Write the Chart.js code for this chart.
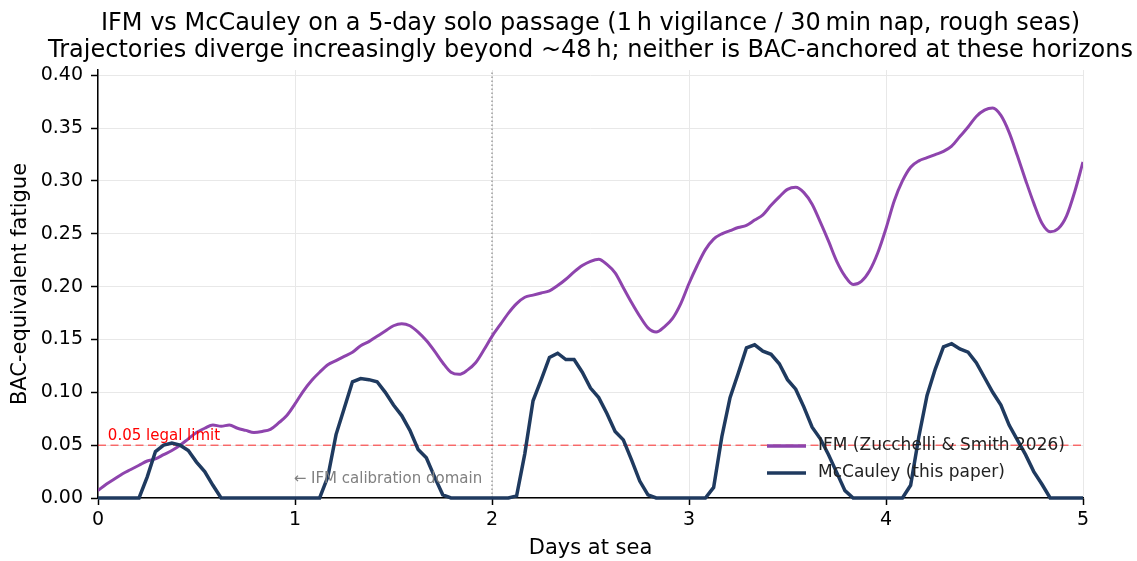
<!DOCTYPE html>
<html>
<head>
<meta charset="utf-8">
<script src="https://cdn.jsdelivr.net/npm/chart.js@4.4.1/dist/chart.umd.min.js"></script>
<style>
  html, body { margin: 0; padding: 0; background: #fff; }
  canvas { display: block; }
</style>
</head>
<body>
<canvas id="fatigueChart" width="1137" height="561"></canvas>
<script>
const titleLines = [
  'IFM vs McCauley on a 5-day solo passage (1\u2009h vigilance / 30\u2009min nap, rough seas)',
  'Trajectories diverge increasingly beyond ~48\u2009h; neither is BAC-anchored at these horizons'
];
const xTitle = 'Days at sea';
const yTitle = 'BAC-equivalent fatigue';
const xTickValues = [0, 1, 2, 3, 4, 5];
const yTickValues = [0, 0.05, 0.10, 0.15, 0.20, 0.25, 0.30, 0.35, 0.40];
const yMax = 0.405;

// hourly samples over 5 days
const hours = Array.from({length: 121}, (_, i) => i);

const ifmValues = [
  0.007, 0.013, 0.018, 0.023, 0.027, 0.031, 0.035, 0.037, 0.041, 0.045, 0.050, 0.056, 0.062,
  0.066, 0.069, 0.068, 0.069, 0.066, 0.064, 0.062, 0.063, 0.065, 0.071, 0.078, 0.089, 0.101,
  0.111, 0.119, 0.126, 0.130, 0.134, 0.138, 0.144, 0.148, 0.153, 0.158, 0.163, 0.165, 0.163,
  0.157, 0.149, 0.139, 0.128, 0.119, 0.117, 0.121, 0.128, 0.140, 0.153,
  0.164, 0.175, 0.184, 0.190, 0.192, 0.194, 0.196, 0.201, 0.207, 0.214, 0.220, 0.224, 0.226,
  0.221, 0.213, 0.199, 0.185, 0.172, 0.161, 0.157, 0.162, 0.170, 0.184, 0.203, 0.220,
  0.235, 0.245, 0.250, 0.253, 0.256, 0.258, 0.263, 0.268, 0.277, 0.285, 0.292, 0.294,
  0.289, 0.278, 0.261, 0.243, 0.224, 0.210, 0.202, 0.205, 0.215, 0.232, 0.255,
  0.281, 0.300, 0.313, 0.319, 0.322, 0.325, 0.328, 0.333, 0.342, 0.351, 0.361, 0.367,
  0.369, 0.362, 0.346, 0.324, 0.301, 0.279, 0.260, 0.252, 0.255, 0.267, 0.290, 0.318
];

const mccauleyValues = [
  0, 0, 0, 0, 0, 0,
  0.020, 0.044, 0.050, 0.052, 0.050, 0.045, 0.034, 0.025, 0.012, 0,
  0, 0, 0, 0, 0, 0, 0, 0, 0, 0, 0, 0,
  0.020, 0.060, 0.085, 0.110, 0.113, 0.112, 0.110, 0.100, 0.088, 0.078, 0.064, 0.046, 0.038, 0.020, 0.003,
  0, 0, 0, 0, 0, 0, 0, 0,
  0.002, 0.042, 0.092, 0.112, 0.133, 0.137, 0.131, 0.131, 0.119, 0.104, 0.095, 0.080, 0.063, 0.055, 0.036, 0.016, 0.003,
  0, 0, 0, 0, 0, 0, 0,
  0.010, 0.058, 0.095, 0.118, 0.142, 0.145, 0.139, 0.136, 0.127, 0.112, 0.103, 0.086, 0.067, 0.056, 0.041, 0.024, 0.007,
  0, 0, 0, 0, 0, 0, 0,
  0.012, 0.058, 0.097, 0.122, 0.143, 0.146, 0.141, 0.138, 0.128, 0.114, 0.100, 0.088, 0.069, 0.055, 0.041, 0.025, 0.013,
  0, 0, 0, 0, 0
];

const legalLimit = 0.05;
const calibrationEndDay = 2;
const seriesLabels = ['IFM (Zucchelli & Smith 2026)', 'McCauley (this paper)'];
const limitLabel = '0.05 legal limit';
const calibrationLabel = '\u2190 IFM calibration domain';

const FONT = "'DejaVu Sans', 'Liberation Sans', sans-serif";
Chart.defaults.font.family = FONT;
Chart.defaults.color = '#000';

function toPoints(values) {
  return hours.map((h, i) => ({x: h / 24, y: values[i]}));
}

// title centred over the axes, text annotations, legend inside the plot area
const overlayText = {
  id: 'overlayText',
  afterDraw(chart) {
    const {ctx, chartArea, scales: {x, y}} = chart;
    ctx.save();
    ctx.font = '24px ' + FONT;
    ctx.fillStyle = '#000';
    ctx.textAlign = 'center';
    ctx.textBaseline = 'alphabetic';
    const cx = (chartArea.left + chartArea.right) / 2;
    titleLines.forEach((t, i) => ctx.fillText(t, cx, 29.5 + i * 27));

    ctx.font = '15px ' + FONT;
    ctx.fillStyle = '#ff0000';
    ctx.textAlign = 'left';
    ctx.fillText(limitLabel, x.getPixelForValue(0.05), y.getPixelForValue(legalLimit + 0.005));
    ctx.fillStyle = '#808080';
    ctx.textAlign = 'right';
    ctx.fillText(calibrationLabel, x.getPixelForValue(calibrationEndDay - 0.05), y.getPixelForValue(0.014));

    // legend, lower right, no frame
    ctx.font = '17px ' + FONT;
    ctx.textAlign = 'left';
    ctx.textBaseline = 'middle';
    const x0 = chartArea.right - 316;
    chart.data.datasets.slice(0, 2).forEach((ds, i) => {
      const yy = chartArea.bottom - 52 + i * 27;
      ctx.strokeStyle = ds.borderColor;
      ctx.lineWidth = 3.5;
      ctx.setLineDash([]);
      ctx.beginPath();
      ctx.moveTo(x0, yy);
      ctx.lineTo(x0 + 39, yy);
      ctx.stroke();
      ctx.fillStyle = '#222';
      ctx.fillText(ds.label, x0 + 51, yy);
    });
    ctx.restore();
  }
};

const ctx = document.getElementById('fatigueChart').getContext('2d');
new Chart(ctx, {
  type: 'line',
  data: {
    datasets: [
      {
        label: seriesLabels[0],
        data: toPoints(ifmValues),
        borderColor: '#8e44ad',
        borderWidth: 3,
        pointRadius: 0,
        cubicInterpolationMode: 'monotone',
        order: 2
      },
      {
        label: seriesLabels[1],
        data: toPoints(mccauleyValues),
        borderColor: '#1f3a5f',
        borderWidth: 3.5,
        pointRadius: 0,
        tension: 0,
        clip: false,
        order: 1
      },
      {
        label: 'limit',
        data: [{x: 0, y: legalLimit}, {x: 5, y: legalLimit}],
        borderColor: 'rgba(255, 0, 0, 0.55)',
        borderWidth: 1.5,
        borderDash: [8, 4.5],
        pointRadius: 0,
        order: 3
      },
      {
        label: 'calibration',
        data: [{x: calibrationEndDay, y: 0}, {x: calibrationEndDay, y: yMax}],
        borderColor: '#888',
        borderWidth: 1.2,
        borderDash: [1.5, 2.5],
        pointRadius: 0,
        order: 4
      }
    ]
  },
  options: {
    responsive: false,
    animation: false,
    layout: {padding: {left: 0, right: 54, top: 70, bottom: 0}},
    plugins: {
      legend: {display: false},
      tooltip: {enabled: false},
      title: {display: false}
    },
    scales: {
      x: {
        type: 'linear',
        min: 0,
        max: 5,
        afterBuildTicks: s => { s.ticks = xTickValues.map(v => ({value: v})); },
        afterFit: s => { s.height = 63; },
        ticks: {font: {size: 19}, color: '#000', padding: 4, callback: v => String(v)},
        grid: {color: '#e8e8e8', lineWidth: 1, tickColor: '#000', tickLength: 7, tickWidth: 1.5},
        border: {display: true, color: '#000', width: 1.5},
        title: {display: true, text: xTitle, font: {size: 21}, color: '#000', padding: {top: 4, bottom: 0}}
      },
      y: {
        type: 'linear',
        min: 0,
        max: yMax,
        afterBuildTicks: s => { s.ticks = yTickValues.map(v => ({value: v})); },
        afterFit: s => { s.width = 98; },
        ticks: {font: {size: 19}, color: '#000', padding: 8, callback: v => v.toFixed(2)},
        grid: {color: '#e8e8e8', lineWidth: 1, tickColor: '#000', tickLength: 7, tickWidth: 1.5},
        border: {display: true, color: '#000', width: 1.5},
        title: {display: true, text: yTitle, font: {size: 21}, color: '#000', padding: {top: 8, bottom: 0}}
      }
    }
  },
  plugins: [overlayText]
});
</script>
</body>
</html>
